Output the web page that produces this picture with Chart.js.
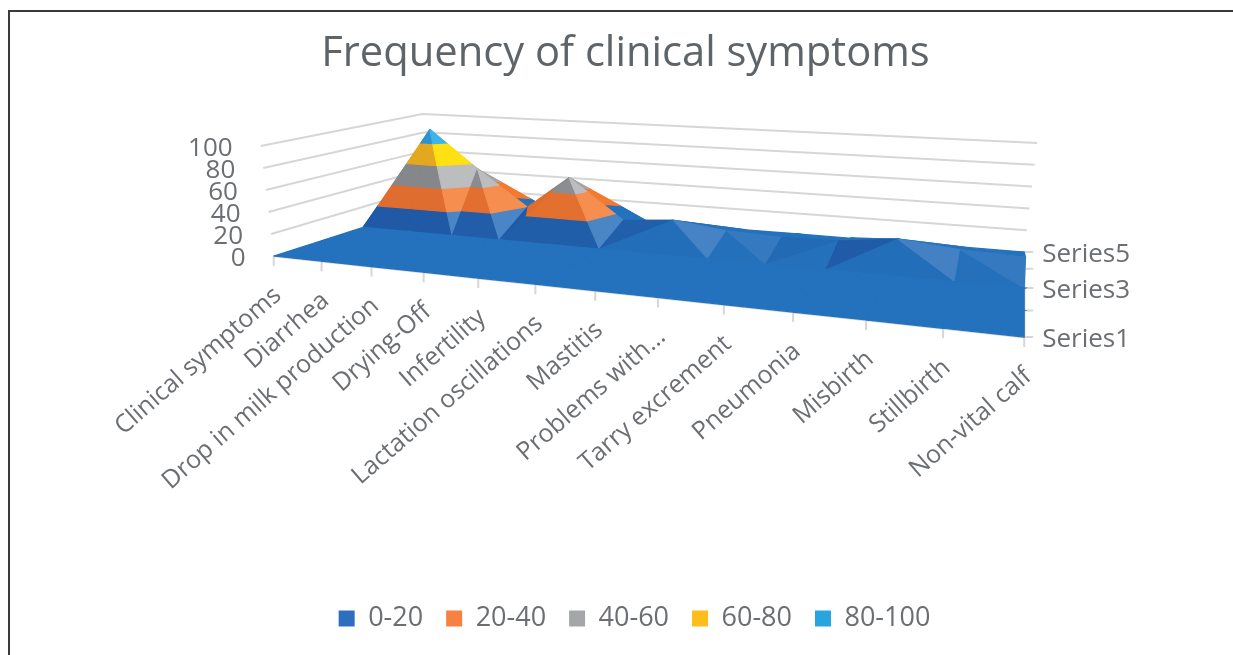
<!DOCTYPE html>
<html>
<head>
<meta charset="utf-8">
<script src="https://cdn.jsdelivr.net/npm/chart.js@4/dist/chart.umd.min.js"></script>
<style>
  html, body { margin: 0; padding: 0; background: #fff; overflow: hidden; }
  #frame { position: absolute; left: 8px; top: 10px; right: -4px; bottom: -4px; border-left: 2px solid #3a3a3a; border-top: 2px solid #3a3a3a; }
  canvas { position: absolute; left: 0; top: 0; filter: blur(0.4px); }
</style>
</head>
<body>
<div id="frame"></div>
<canvas id="chart" width="1233" height="655"></canvas>
<script>
// data
const categories = ['Clinical symptoms', 'Diarrhea', 'Drop in milk production', 'Drying-Off', 'Infertility',
  'Lactation oscillations', 'Mastitis', 'Problems with…', 'Tarry excrement', 'Pneumonia', 'Misbirth', 'Stillbirth', 'Non-vital calf'];
const seriesNames = ['Series1', '', 'Series3', '', 'Series5'];
const series1 = [0, 0, 0, 0, 0, 0, 0, 0, 0, 0, 0, 0, 0];
const series2 = [0, 0, 0, 0, 0, 0, 0, 0, 0, 0, 0, 0, 0];
const series3 = [0, 0, 0, 0, 0, 0, 0, 0, 0, 0, 0, 0, 0];
const series4 = [0, 93, 55, 19.5, 52.5, 14, 18, 12, 10, 11, 17, 12, 10];
const series5 = [0, 0, 0, 0, 0, 0, 0, 0, 0, 0, 0, 0, 0];
const valueTicks = [0, 20, 40, 60, 80, 100];
const bandLabels = ['0-20', '20-40', '40-60', '60-80', '80-100'];
const bandEdges = [0, 20, 40, 60, 80, 100];

const rows = [series1, series2, series3, series4, series5];

// colours
const legendColors = ['#2e6fbd', '#f58142', '#a5a6a8', '#fdbd1c', '#28a5df'];
const shadeDark = ['#2059a5', '#df6d2f', '#86878b', '#e3a81f', '#2b93cf'];
const shadeMid = ['#2472bd', '#f37a30', '#a5a5a5', '#ffc000', '#2ea5df'];
const shadeLight = ['#4a85c5', '#f58e4e', '#bcbdbf', '#ffe012', '#3db4ea'];
const textColor = '#6b6e72';
const gridColor = '#d6d6d6';
const fontName = '"Open Sans", sans-serif';

// box corners in page pixels, floor and top (value 100)
const floorQuad = [[273, 256], [1025, 337], [1025, 252], [433, 205]];
const topQuad = [[260, 146], [1041, 202], [1038, 143], [422, 114]];

function makeHomography(q) {
  const [p0, p1, p2, p3] = q;
  const dx1 = p1[0] - p2[0], dx2 = p3[0] - p2[0], sx = p0[0] - p1[0] + p2[0] - p3[0];
  const dy1 = p1[1] - p2[1], dy2 = p3[1] - p2[1], sy = p0[1] - p1[1] + p2[1] - p3[1];
  const det = dx1 * dy2 - dx2 * dy1;
  const g = (sx * dy2 - dx2 * sy) / det;
  const h = (dx1 * sy - sx * dy1) / det;
  const a = p1[0] - p0[0] + g * p1[0], b = p3[0] - p0[0] + h * p3[0];
  const d = p1[1] - p0[1] + g * p1[1], e = p3[1] - p0[1] + h * p3[1];
  return (u, v) => {
    const w = g * u + h * v + 1;
    return [(a * u + b * v + p0[0]) / w, (d * u + e * v + p0[1]) / w];
  };
}
const floorMap = makeHomography(floorQuad);
const topMap = makeHomography(topQuad);

// category index, series index, value -> page position
function project(i, j, z) {
  const u = i / (categories.length - 1), v = j / (rows.length - 1);
  const f = floorMap(u, v), t = topMap(u, v);
  return { x: f[0] + (t[0] - f[0]) * z / 100, y: f[1] + (t[1] - f[1]) * z / 100 };
}

function hexMix(c1, c2, t) {
  const p = c => [1, 3, 5].map(k => parseInt(c.substr(k, 2), 16));
  const a = p(c1), b = p(c2);
  return 'rgb(' + a.map((v, k) => Math.round(v + (b[k] - v) * t)).join(',') + ')';
}

// cut a triangle of [i, j, z] corners down to one value band
function clipBand(tri, lo, hi) {
  const clip = (poly, keep, level) => {
    const out = [];
    poly.forEach((p, k) => {
      const q = poly[(k + 1) % poly.length];
      if (keep(p[2])) out.push(p);
      if (keep(p[2]) !== keep(q[2])) {
        const t = (level - p[2]) / (q[2] - p[2]);
        out.push([p[0] + (q[0] - p[0]) * t, p[1] + (q[1] - p[1]) * t, level]);
      }
    });
    return out;
  };
  let poly = clip(tri, z => z >= lo, lo);
  if (poly.length) poly = clip(poly, z => z <= hi, hi);
  return poly;
}

function faceShade(tri) {
  // plane slope along category and series direction
  const [a, b, c] = tri;
  const ux = b[0] - a[0], uy = b[1] - a[1], uz = b[2] - a[2];
  const vx = c[0] - a[0], vy = c[1] - a[1], vz = c[2] - a[2];
  const nz = ux * vy - uy * vx;
  const dzdi = -(uy * vz - uz * vy) / nz;
  const dzdj = -(uz * vx - ux * vz) / nz;
  if (dzdj < 0) return 0; // slopes going away from us stay plain
  const score = -dzdi * 3 - dzdj * dzdj / 200;
  return score / (Math.abs(score) + 15);
}

const surface = [];
for (let j = rows.length - 2; j >= 0; j--) {
  for (let i = 0; i < categories.length - 1; i++) {
    const A = [i, j, rows[j][i]], B = [i + 1, j, rows[j][i + 1]];
    const C = [i + 1, j + 1, rows[j + 1][i + 1]], D = [i, j + 1, rows[j + 1][i]];
    const corners = [A, B, C, D];
    // split along the diagonal through the highest corner
    let top = 0;
    corners.forEach((p, k) => { if (p[2] > corners[top][2]) top = k; });
    const p0 = corners[top], p1 = corners[(top + 1) % 4], p2 = corners[(top + 2) % 4], p3 = corners[(top + 3) % 4];
    [[p0, p1, p2], [p0, p2, p3]].forEach(tri => {
      const t = faceShade(tri);
      bandLabels.forEach((label, b) => {
        const poly = clipBand(tri, bandEdges[b], bandEdges[b + 1]);
        if (poly.length < 3) return;
        if (poly.every(p => p[2] === bandEdges[b + 1])) return;
        const color = t < 0 ? hexMix(shadeMid[b], shadeDark[b], Math.min(1, -t / 0.6)) : hexMix(shadeMid[b], shadeLight[b], Math.min(1, t / 0.6));
        const pts = poly.map(p => project(p[0], p[1], p[2]));
        surface.push({ type: 'line', data: pts.concat([pts[0]]), fill: 'shape', backgroundColor: color, borderColor: color, borderWidth: 1.2, pointRadius: 0, tension: 0 });
      });
    });
  }
}

const lastCat = categories.length - 1, lastRow = rows.length - 1;
const lineSet = (pts, color, width) => ({ type: 'line', data: pts, borderColor: color, borderWidth: width, pointRadius: 0, fill: false, tension: 0 });

const frameLines = [];
valueTicks.forEach(z => {
  if (z === 0) return;
  frameLines.push(lineSet([project(0, 0, z), project(0, lastRow, z), project(lastCat, lastRow, z)], gridColor, 2));
});
frameLines.push(lineSet([project(0, 0, 0), project(lastCat, 0, 0), project(lastCat, lastRow, 0)], gridColor, 2.5));
categories.forEach((c, i) => {
  const p = project(i, 0, 0);
  frameLines.push(lineSet([p, { x: p.x, y: p.y + 10 }], gridColor, 2));
});
rows.forEach((r, j) => {
  const p = project(lastCat, j, 0);
  frameLines.push(lineSet([p, { x: p.x + 9, y: p.y }], gridColor, 2));
});

const legendSets = bandLabels.map((label, b) => ({ type: 'line', label: label, data: [], backgroundColor: legendColors[b], borderColor: legendColors[b], borderWidth: 0, pointRadius: 0 }));

// chart.js paints the first dataset last, so reverse the painting order
const painted = frameLines.concat(surface).reverse();

const axisText = {
  id: 'axisText',
  // title and legend sit right of the page centre in the reference
  afterLayout(chart) {
    chart.titleBlock.left += 9;
    chart.titleBlock.right += 9;
    chart.legend.left += 18;
    chart.legend.right += 18;
  },
  afterDraw(chart) {
    const ctx = chart.ctx, sx = chart.scales.x, sy = chart.scales.y;
    const px = p => [sx.getPixelForValue(p.x), sy.getPixelForValue(p.y)];
    ctx.save();
    ctx.fillStyle = textColor;
    ctx.font = '26px ' + fontName;
    ctx.textBaseline = 'middle';
    ctx.textAlign = 'right';
    valueTicks.forEach(z => {
      const [x, y] = px(project(0, 0, z));
      ctx.fillText(String(z), x - 28, y + 3);
    });
    ctx.textAlign = 'left';
    seriesNames.forEach((s, j) => {
      const [x, y] = px(project(lastCat, j, 0));
      ctx.fillText(s, x + 18, y + 3);
    });
    ctx.font = '25px ' + fontName;
    ctx.textAlign = 'right';
    categories.forEach((c, i) => {
      const [x, y] = px(project(i, 0, 0));
      ctx.save();
      ctx.translate(x + 4, y + 36);
      ctx.rotate(-41 * Math.PI / 180);
      ctx.fillText(c, 0, 0);
      ctx.restore();
    });
    ctx.restore();
  }
};

const chart = new Chart(document.getElementById('chart'), {
  type: 'line',
  data: { datasets: legendSets.concat(painted) },
  options: {
    responsive: false,
    animation: false,
    events: [],
    layout: { padding: { bottom: 13 } },
    scales: {
      x: { type: 'linear', display: false, min: 0, max: 1233 },
      y: { type: 'linear', display: false, reverse: true, min: 0, max: 655 }
    },
    plugins: {
      title: {
        display: true,
        text: 'Frequency of clinical symptoms',
        color: '#5f6468',
        font: { family: fontName, size: 41.7, weight: 'normal' },
        padding: { top: 29, bottom: 4 }
      },
      legend: {
        display: true,
        position: 'bottom',
        labels: {
          filter: item => !!item.text,
          color: textColor,
          font: { family: fontName, size: 27 },
          boxWidth: 16,
          boxHeight: 16,
          padding: 23
        }
      },
      tooltip: { enabled: false }
    }
  },
  plugins: [axisText]
});

// make one scale unit equal one page pixel inside the chart area
const area = chart.chartArea;
chart.options.scales.x.min = area.left;
chart.options.scales.x.max = area.right;
chart.options.scales.y.min = area.top;
chart.options.scales.y.max = area.bottom;
chart.update('none');
</script>
</body>
</html>
